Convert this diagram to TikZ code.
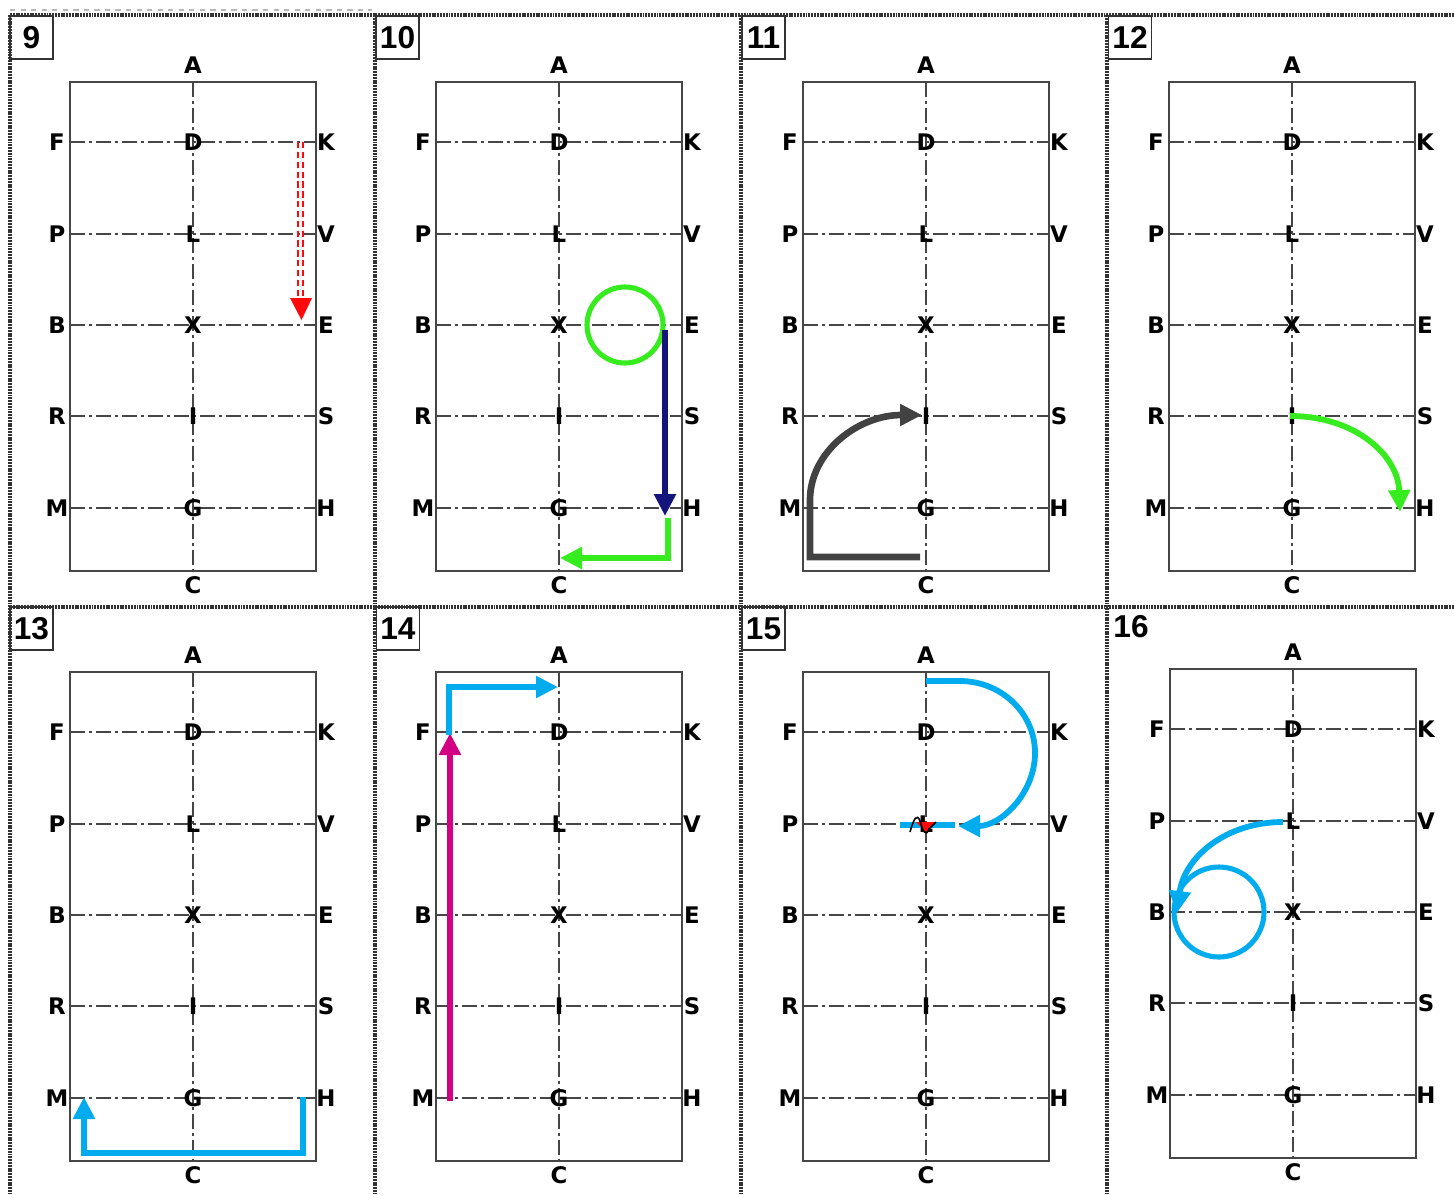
\documentclass[tikz,border=0pt]{standalone}
\usepackage{fontspec}
\setmainfont{Liberation Sans}
\newfontfamily\lblfont{DejaVu Sans}
\usetikzlibrary{arrows.meta}
\definecolor{arenacol}{RGB}{70,70,70}
\definecolor{gridcol}{RGB}{70,70,70}
\definecolor{sepcol}{RGB}{50,50,50}
\definecolor{myred}{RGB}{255,10,10}
\definecolor{mygreen}{RGB}{55,236,30}
\definecolor{mynavy}{RGB}{20,20,125}
\definecolor{mydark}{RGB}{66,66,66}
\definecolor{mycyan}{RGB}{0,172,238}
\definecolor{mymag}{RGB}{210,0,130}
\newcommand{\court}[3]{%
 \begin{scope}[shift={(#1,#2)}]
  \draw[arena] (70,82) rectangle (316,571);
  \foreach \yy in {142,234,325,416,508} {\draw[gridline] (70,\yy) -- (316,\yy);}
  \draw[gridline] (193,82) -- (193,571);
  \node[lbl] (#3A) at (193,65) {A};
  \node[lbl] (#3C) at (193,585) {C};
  \node[lbl] (#3F) at (57,142) {F};
  \node[lbl] (#3P) at (57,234) {P};
  \node[lbl] (#3B) at (57,325) {B};
  \node[lbl] (#3R) at (57,416) {R};
  \node[lbl] (#3M) at (57,508) {M};
  \node[lbl] (#3D) at (193,142) {D};
  \node[lbl] (#3L) at (193,234) {L};
  \node[lbl] (#3X) at (193,325) {X};
  \node[lbl] (#3I) at (193,416) {I};
  \node[lbl] (#3G) at (193,508) {G};
  \node[lbl] (#3K) at (326,142) {K};
  \node[lbl] (#3V) at (326,234) {V};
  \node[lbl] (#3E) at (326,325) {E};
  \node[lbl] (#3S) at (326,416) {S};
  \node[lbl] (#3H) at (326,508) {H};
 \end{scope}}
\begin{document}
\begin{tikzpicture}[x=0.02cm,y=-0.02cm,
  arena/.style={draw=arenacol,line width=1.3pt},
  gridline/.style={draw=gridcol,line width=1.25pt,dash pattern=on 8.5pt off 2.3pt on 1.7pt off 2.3pt},
  lbl/.style={inner sep=0pt,font=\lblfont\fontsize{13}{14}\selectfont\bfseries},
  numbox/.style={draw=black!80,line width=1.1pt,minimum width=0.86cm,minimum height=0.86cm,inner sep=0pt,font=\fontsize{18}{18}\selectfont\bfseries},
  numtxt/.style={inner sep=0pt,font=\fontsize{18}{18}\selectfont\bfseries},
  sep/.style={draw=sepcol,line width=1.8pt,dash pattern=on 1.1pt off 0.5pt},
  tip/.style={-{Triangle[length=0.44cm,width=0.42cm]}},
  mv/.style={line width=3.3pt,line join=miter}]
\useasboundingbox (0,0) rectangle (1454,1194);
\fill[white] (0,0) rectangle (1454,1194);
% separators
\draw[gray!55,line width=0.8pt,dashed] (10,10) -- (372,10);
\draw[sep] (10,15) -- (1454,15);
\draw[sep] (10,607) -- (1454,607);
\foreach \xx in {10,375,741,1107} {\draw[sep] (\xx,15) -- (\xx,1194);}
% courts
\court{0}{0}{a}
\court{366}{0}{b}
\court{733}{0}{c}
\court{1099}{0}{d}
\court{0}{590}{e}
\court{366}{590}{f}
\court{733}{590}{g}
\court{1100}{587}{h}
% numbers
\node[numbox] (n9) at (31.5,37.5) {9};
\node[numbox] (n10) at (397.5,37.5) {10};
\node[numbox] (n11) at (763.5,37.5) {11};
\node[numbox] (n12) at (1130,37.5) {12};
\node[numbox] (n13) at (31.5,628.5) {13};
\node[numbox] (n14) at (398,628.5) {14};
\node[numbox] (n15) at (763.5,628.5) {15};
\node[numtxt] (n16) at (1131,627) {16};
% 9: red double dashed
\coordinate (r1) at (300.5,142);
\coordinate (r2) at (300.5,298);
\draw[myred,line width=1.3pt,dash pattern=on 3.6pt off 2pt] ([xshift=-0.055cm]r1) -- ([xshift=-0.055cm]r2);
\draw[myred,line width=1.3pt,dash pattern=on 3.6pt off 2pt] ([xshift=0.055cm]r1) -- ([xshift=0.055cm]r2);
\fill[myred] (290,298) -- (312,298) -- (301.5,320) -- cycle;
% 10
\coordinate (c10) at (625,325);
\draw[mygreen,line width=2.9pt] (c10) circle[radius=38];
\coordinate (n1) at (665,330);
\coordinate (n2) at (665,516);
\draw[mynavy,mv,tip] (n1) -- (n2);
\coordinate (g1) at (668,518);
\coordinate (g2) at (668,558);
\coordinate (g3) at (560,558);
\draw[mygreen,mv,tip] (g1) -- (g2) -- (g3);
% 11
\coordinate (k1) at (920,557);
\coordinate (k2) at (810,557);
\coordinate (k3) at (810,500);
\coordinate (k4) at (922,415);
\draw[mydark,line width=3.8pt,line join=miter,tip] (k1) -- (k2) -- (k3) .. controls (810,452) and (858,415) .. (k4);
% 12
\coordinate (m1) at (1290,416);
\coordinate (m2) at (1400,512);
\draw[mygreen,mv,tip] (m1) .. controls (1355,416) and (1398,455) .. (m2);
% 13
\coordinate (u1) at (303,1097);
\coordinate (u2) at (303,1153);
\coordinate (u3) at (84,1153);
\coordinate (u4) at (84,1097);
\draw[mycyan,mv,tip] (u1) -- (u2) -- (u3) -- (u4);
% 14
\coordinate (p1) at (450,1101);
\coordinate (p2) at (450,733);
\draw[mymag,mv,tip] (p1) -- (p2);
\coordinate (q1) at (449,735);
\coordinate (q2) at (449,687);
\coordinate (q3) at (558,687);
\draw[mycyan,mv,tip] (q1) -- (q2) -- (q3);
% 15
\coordinate (s0) at (900,825);
\coordinate (s5) at (955,825);
\draw[mycyan,line width=3.3pt] (s0) -- (s5);
\fill[myred] (916,822) -- (936,822) -- (926,832) -- cycle;
\draw[black,line width=0.9pt] (910,832) .. controls (914,818) and (917,813) .. (920,821) .. controls (923,832) and (926,837) .. (929,829) -- (936,822);
\coordinate (s1) at (926,681);
\coordinate (s2) at (960,681);
\coordinate (s3) at (1035,753);
\coordinate (s4) at (958,826);
\draw[mycyan,mv,tip] (s1) -- (s2) .. controls (1001,681) and (1035,713) .. (s3) .. controls (1035,793) and (1001,826) .. (s4);
% 16
\coordinate (t1) at (1283,822);
\coordinate (t2) at (1177,913);
\draw[mycyan,mv,tip] (t1) .. controls (1225,822) and (1184,858) .. (t2);
\coordinate (c16) at (1219,912);
\draw[mycyan,line width=2.9pt] (c16) circle[radius=45];
\end{tikzpicture}
\end{document}
